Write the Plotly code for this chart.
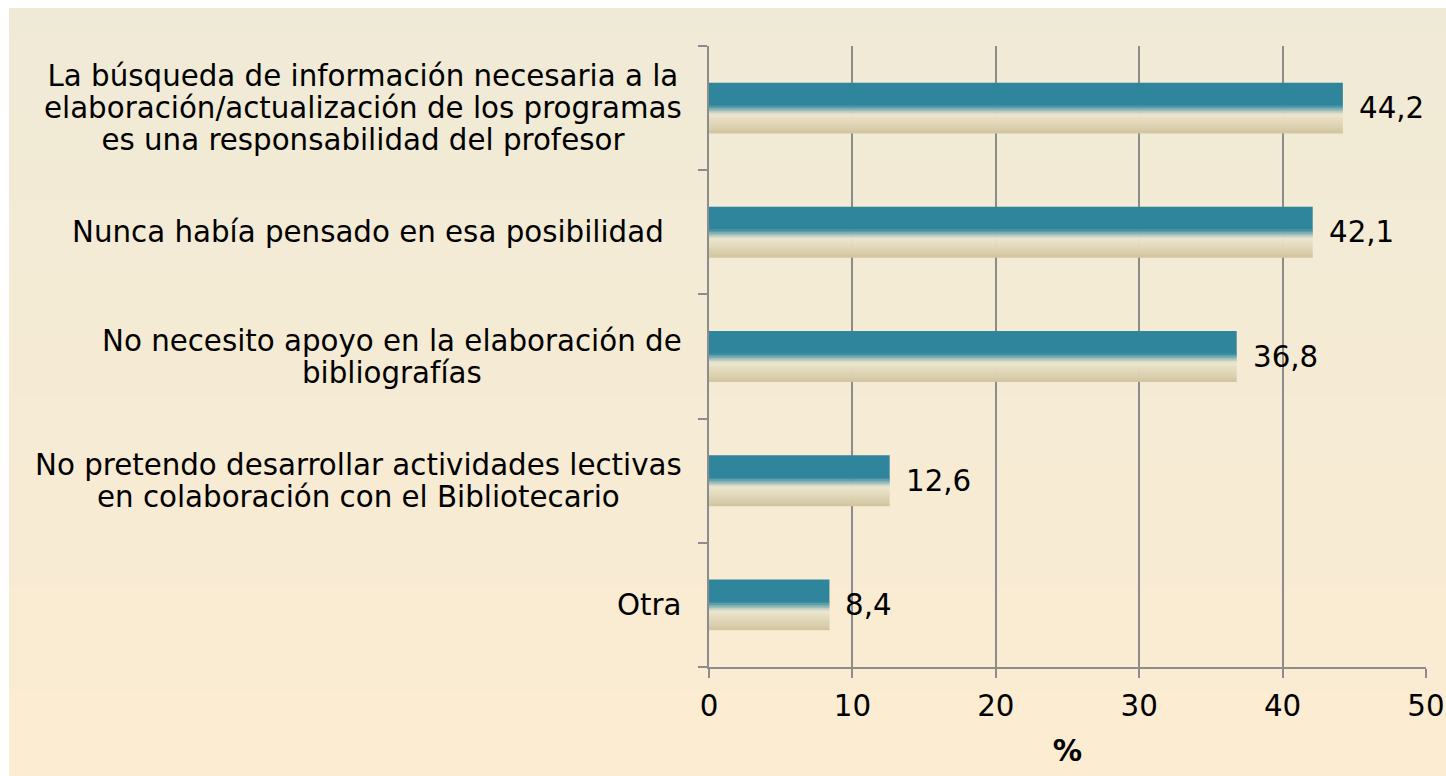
import plotly.graph_objects as go

categories = [
    "La búsqueda de información necesaria a la<br>elaboración/actualización de los programas<br>es una responsabilidad del profesor",
    "Nunca había pensado en esa posibilidad\u00a0\u00a0",
    "No necesito apoyo en la elaboración de<br>bibliografías",
    "No pretendo desarrollar actividades lectivas<br>en colaboración con el Bibliotecario",
    "Otra",
]
values = [44.2, 42.1, 36.8, 12.6, 8.4]
x_ticks = [0, 10, 20, 30, 40, 50]
x_title = "%"

W, H = 1446, 776
ML, MR, MT, MB = 709, 20, 46, 109
PW, PH = W - ML - MR, H - MT - MB

FONT = "DejaVu Sans, Verdana, sans-serif"
FS = 29.3
GRAY = "#8C8C8C"

def hex2rgb(h):
    h = h.lstrip("#")
    return tuple(int(h[i:i + 2], 16) for i in (0, 2, 4))

def mix(c1, c2, t):
    a, b = hex2rgb(c1), hex2rgb(c2)
    return "rgb(%d,%d,%d)" % tuple(round(a[i] + (b[i] - a[i]) * t) for i in range(3))

ids = list(range(len(categories)))
fig = go.Figure()

# bar drawn as horizontal strips to imitate the gradient fill
BW = 0.41
TEAL, LIGHT, TAN = "#2F859C", "#EDE7CF", "#D2C49F"
strips = [(0.0, 0.44, TEAL)]
n1 = 6
for k in range(n1):
    t0 = 0.44 + (0.62 - 0.44) * k / n1
    t1 = 0.44 + (0.62 - 0.44) * (k + 1) / n1
    strips.append((t0, t1, mix(TEAL, LIGHT, (k + 0.5) / n1)))
n2 = 10
for k in range(n2):
    t0 = 0.62 + (1.0 - 0.62) * k / n2
    t1 = 0.62 + (1.0 - 0.62) * (k + 1) / n2
    strips.append((t0, t1, mix(LIGHT, TAN, (k + 0.5) / n2)))

for i, (t0, t1, col) in enumerate(strips):
    last = i == len(strips) - 1
    w = (t1 - t0) * BW + (0 if last else 0.004)
    fig.add_trace(go.Bar(
        x=values, y=ids, orientation="h",
        offset=-BW / 2 + t0 * BW, width=w,
        marker=dict(color=col, line=dict(width=0)),
        hoverinfo="x" if i == 0 else "skip",
        showlegend=False,
    ))

# value labels
annotations = []
for i, v in enumerate(values):
    annotations.append(dict(
        x=v, y=i, xref="x", yref="y", xanchor="left", yanchor="middle",
        xshift=14, text=f"{v:.1f}".replace(".", ","), showarrow=False,
        font=dict(family=FONT, size=FS, color="black"),
    ))
# category labels
for i, c in enumerate(categories):
    annotations.append(dict(
        x=0, y=i, xref="paper", yref="y", xanchor="right", yanchor="middle",
        xshift=-25, align="center",
        text=f'<span style="font-size:{FS}px">{c}</span>', showarrow=False,
        font=dict(family=FONT, size=24.6, color="black"),
    ))

# background gradient bands (figure area inside white frame)
shapes = []
x0p = (9 - ML) / PW
x1p = (W + 5 - ML) / PW
top_px, bot_px = 8, H + 5
NB = 60
c_top, c_bot = "#EFEAD6", "#FCECD2"
for k in range(NB):
    p0 = top_px + (bot_px - top_px) * k / NB
    p1 = top_px + (bot_px - top_px) * (k + 1) / NB + 1
    y0 = (H - MB - p0) / PH
    y1 = (H - MB - p1) / PH
    shapes.append(dict(
        type="rect", xref="paper", yref="paper", x0=x0p, x1=x1p, y0=y1, y1=y0,
        fillcolor=mix(c_top, c_bot, (k + 0.5) / NB), line=dict(width=0), layer="below",
    ))

fig.update_layout(
    width=W, height=H,
    margin=dict(l=ML, r=MR, t=MT, b=MB, pad=0, autoexpand=False),
    paper_bgcolor="white", plot_bgcolor="rgba(0,0,0,0)",
    barmode="overlay",
    shapes=shapes, annotations=annotations,
    font=dict(family=FONT, size=FS, color="black"),
    xaxis=dict(
        range=[0, 50], tickvals=x_ticks, ticktext=[str(t) for t in x_ticks],
        showgrid=True, gridcolor=GRAY, gridwidth=2, zeroline=False,
        showline=True, linecolor=GRAY, linewidth=2,
        ticks="outside", ticklen=9, tickwidth=2, tickcolor=GRAY,
        ticklabelstandoff=3, automargin=False,
        tickfont=dict(family=FONT, size=FS, color="black"),
        title=dict(text=f"<b>{x_title}</b>", standoff=18,
                   font=dict(family=FONT, size=FS, color="black")),
        fixedrange=True,
    ),
    yaxis=dict(
        range=[len(categories) - 0.5, -0.5],
        tickvals=[i + 0.5 for i in range(-1, len(categories))],
        ticktext=["" for _ in range(len(categories) + 1)],
        showgrid=False, zeroline=False, automargin=False,
        showline=True, linecolor=GRAY, linewidth=2,
        ticks="outside", ticklen=9, tickwidth=2, tickcolor=GRAY,
        fixedrange=True,
    ),
)

fig.write_html(
    "out.html",
    config={"displayModeBar": False},
    post_script="document.body.style.margin='0';document.body.style.overflow='hidden';",
)
